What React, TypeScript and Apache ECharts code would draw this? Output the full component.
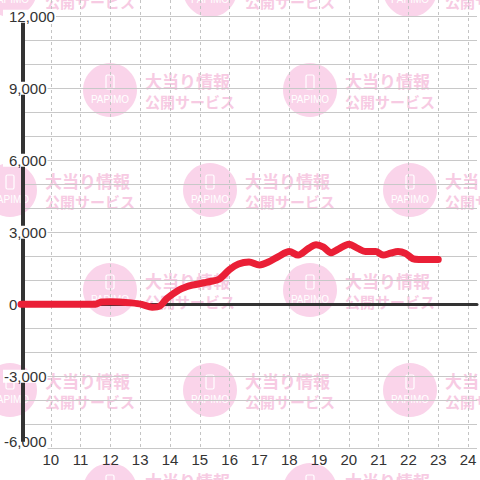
import React, { useEffect, useRef } from "react";
import * as echarts from "echarts";

const HOURS = [9, 11.5, 11.7, 12.0, 12.3, 12.7, 13.05, 13.4, 13.65, 13.9, 14.3, 14.55, 14.75, 15.15, 15.35, 15.65, 16.0, 16.3, 16.65, 17.0, 17.3, 17.65, 18.0, 18.3, 18.65, 18.9, 19.15, 19.4, 19.65, 20.0, 20.3, 20.55, 20.9, 21.15, 21.4, 21.65, 21.9, 22.15, 22.35, 23.0];
const DIFFS = [0, 0, 100, 110, 100, 60, 0, -120, -80, 250, 600, 730, 800, 900, 950, 1050, 1450, 1680, 1760, 1640, 1760, 2000, 2200, 2050, 2330, 2480, 2380, 2150, 2300, 2500, 2330, 2200, 2200, 2050, 2130, 2200, 2120, 1900, 1870, 1870];

const X_MIN = 9;
const X_MAX = 24.3;
const X_LABEL_MIN = 10;
const X_LABEL_MAX = 24;
const Y_MIN = -6000;
const Y_MAX = 12000;
const Y_TOP = 12680;
const Y_LABEL_STEP = 3000;
const Y_GRID_STEP = 1000;

const WM_LINE1 = "大当り情報";
const WM_LINE2 = "公開サービス";
const WM_BRAND = "PAPIMO";

const FONT = "'Liberation Sans', Arial, sans-serif";
const PINK = "#fad4ea";
const PINK_TEXT = "#f7cbe3";

function buildWatermark() {
  const els: any[] = [];
  for (let r = 0; r < 6; r++) {
    const cy = -10 + 100 * r;
    const off = r % 2 === 1 ? 110 : 10;
    for (let c = 0; c < 3; c++) {
      const cx = off + 200 * c;
      els.push({
        type: "group",
        z: -10,
        silent: true,
        children: [
          { type: "circle", shape: { cx, cy, r: 27 }, style: { fill: PINK }, z: -10 },
          {
            type: "rect",
            shape: { x: cx - 4, y: cy - 15, width: 8, height: 14, r: 1.5 },
            style: { fill: "none", stroke: "#fff", lineWidth: 1.2 },
            z: -9,
          },
          {
            type: "text",
            x: cx,
            y: cy + 9,
            style: { text: WM_BRAND, fill: "#fff", font: "10px 'Liberation Sans', Arial", align: "center", verticalAlign: "middle" },
            z: -9,
          },
          {
            type: "text",
            x: cx + 35,
            y: cy - 10,
            style: { text: WM_LINE1, fill: PINK_TEXT, font: "bold 17px 'Noto Sans CJK JP'", align: "left", verticalAlign: "middle" },
            z: -10,
          },
          {
            type: "text",
            x: cx + 35,
            y: cy + 11,
            style: { text: WM_LINE2, fill: PINK_TEXT, font: "bold 15px 'Noto Sans CJK JP'", align: "left", verticalAlign: "middle" },
            z: -10,
          },
        ],
      });
    }
  }
  return els;
}

export default function App() {
  const ref = useRef<HTMLDivElement>(null);
  useEffect(() => {
    document.body.style.margin = "0";
    const chart = echarts.init(ref.current!, null, { renderer: "svg" });
    const fmtY = (v: number) => v.toLocaleString("en-US");
    const labelStyle = { color: "#333", fontSize: 15, fontFamily: FONT, lineHeight: 13 };
    chart.setOption({
      animation: false,
      backgroundColor: "#fff",
      graphic: buildWatermark(),
      grid: [
        { left: 21, right: 0, top: 0, bottom: 31.7 },
        { left: 21, right: 0, top: 16.3, bottom: 31.7 },
      ],
      xAxis: [
        {
          gridIndex: 0,
          type: "value",
          min: X_MIN,
          max: X_MAX,
          interval: 1,
          axisLine: { show: true, onZero: true, lineStyle: { color: "#333", width: 3 } },
          axisTick: { show: false },
          axisLabel: { show: false },
          splitLine: {
            show: true,
            showMinLine: false,
            showMaxLine: false,
            lineStyle: { color: "#c4c4c4", width: 1, type: [3, 3] },
          },
        },
        {
          gridIndex: 0,
          type: "value",
          min: X_MIN,
          max: X_MAX,
          interval: 1,
          position: "bottom",
          axisLine: { show: false, onZero: false },
          axisTick: { show: false },
          splitLine: { show: false },
          axisLabel: {
            show: true,
            margin: 4,
            color: "#333",
            fontSize: 15,
            fontFamily: FONT,
            formatter: (v: number) =>
              Number.isInteger(v) && v >= X_LABEL_MIN && v <= X_LABEL_MAX ? String(v) : "",
          },
        },
        { gridIndex: 1, type: "value", min: X_MIN, max: X_MAX, show: false },
      ],
      yAxis: [
        {
          gridIndex: 0,
          type: "value",
          min: Y_MIN,
          max: Y_TOP,
          interval: Y_GRID_STEP,
          axisLine: { show: false },
          axisTick: { show: false },
          axisLabel: { show: false },
          splitLine: {
            show: true,
            showMaxLine: false,
            lineStyle: { color: "#c8c8c8", width: 1 },
          },
        },
        {
          gridIndex: 1,
          type: "value",
          min: Y_MIN,
          max: Y_MAX,
          interval: Y_LABEL_STEP,
          axisLine: { show: true, onZero: false, lineStyle: { color: "#333", width: 4 } },
          axisTick: { show: false },
          splitLine: { show: false },
          axisLabel: {
            show: true,
            align: "left",
            margin: 20,
            color: "#333",
            fontSize: 15,
            fontFamily: FONT,
            lineHeight: 13,
            backgroundColor: "#fff",
            padding: [0, 1, 0, 0],
            formatter: (v: number) => {
              if (v === Y_MIN) return "{lo|" + fmtY(v) + "}";
              if (v < 0) return "{n|" + fmtY(v) + "}";
              return "{p|" + fmtY(v) + "}";
            },
            rich: {
              lo: { ...labelStyle, padding: [0, 0, 13, 1] },
              n: { ...labelStyle, padding: [0, 0, 0, 1] },
              p: { ...labelStyle, padding: [0, 0, 0, 6] },
            },
          },
        },
      ],
      series: [
        {
          type: "line",
          xAxisIndex: 0,
          yAxisIndex: 0,
          data: HOURS.map((h, i) => [h, DIFFS[i]]),
          smooth: 0.3,
          showSymbol: false,
          symbol: "none",
          clip: false,
          z: 5,
          lineStyle: { color: "#ea1f36", width: 7, cap: "round", join: "round" },
        },
      ],
    });
    return () => chart.dispose();
  }, []);
  return <div ref={ref} style={{ width: 480, height: 480 }} />;
}
